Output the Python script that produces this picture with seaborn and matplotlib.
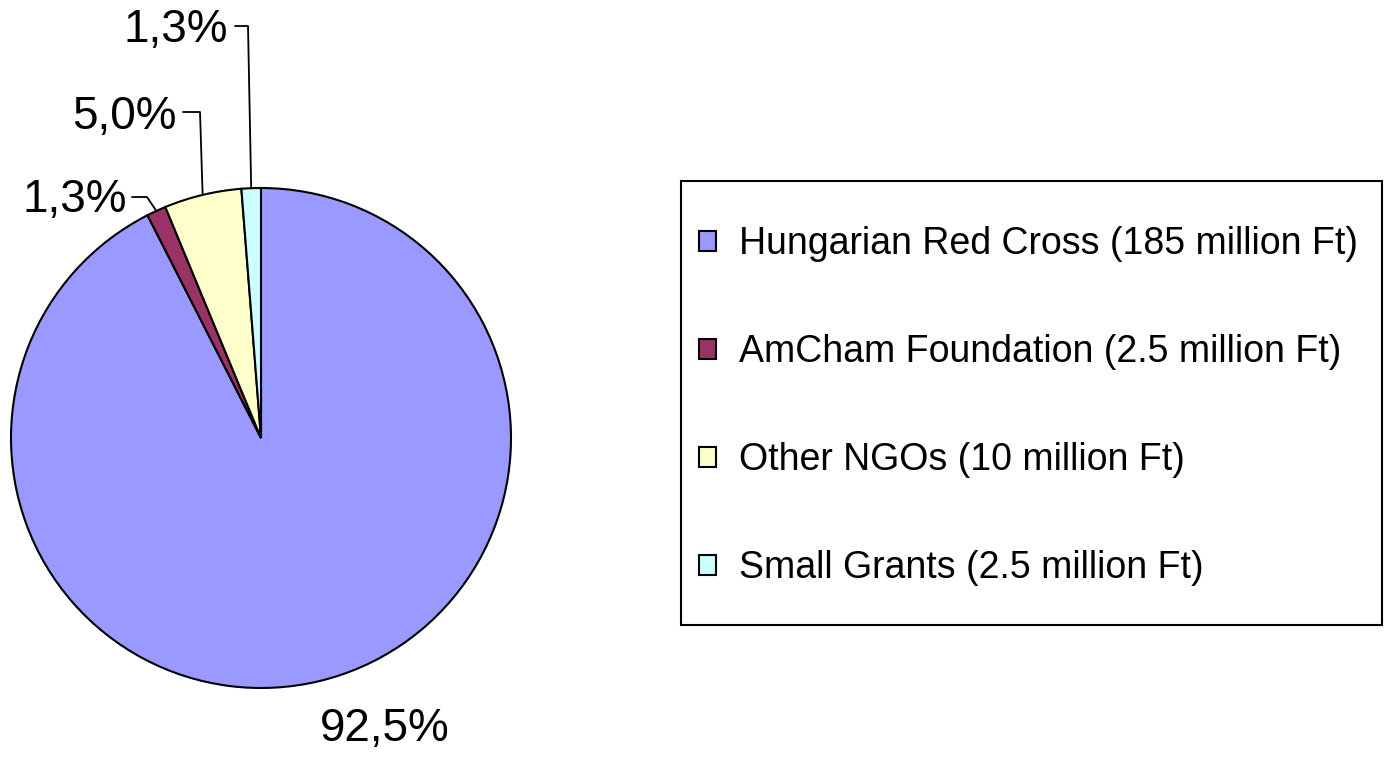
import matplotlib
matplotlib.use("Agg")

import numpy as np
import seaborn as sns
import matplotlib.pyplot as plt
from matplotlib.patches import Rectangle

# data
names = ['Hungarian Red Cross (185 million Ft)',
         'AmCham Foundation (2.5 million Ft)',
         'Other NGOs (10 million Ft)',
         'Small Grants (2.5 million Ft)']
amounts = [185, 2.5, 10, 2.5]
colors = ['#9999FF', '#993366', '#FFFFCC', '#CCFFFF']

sns.set_style("white")
plt.rcParams['font.family'] = ['Liberation Sans', 'DejaVu Sans']
plt.rcParams['text.color'] = 'black'

W, H = 1390, 757
fig = plt.figure(figsize=(W / 100, H / 100), dpi=100)

# pie axes: centre (261, 438) px, radius 250 px
cx, cy, r = 261, 438, 250
ax = fig.add_axes([(cx - r) / W, (H - cy - r) / H, 2 * r / W, 2 * r / H])

wedges, _ = ax.pie(amounts, colors=colors, startangle=90, counterclock=False,
                   wedgeprops=dict(edgecolor='black', linewidth=1.5))
ax.set_xlim(-1, 1)
ax.set_ylim(-1, 1)
ax.axis('off')

total = sum(amounts)
pcts = [f"{v / total * 100 + 1e-9:.1f}%".replace('.', ',') for v in amounts]

def px(x, y):
    # pixel -> data coords of pie axes
    return (x - cx) / r, (cy - y) / r

# label text anchors (right edge, centre) and elbow of the leader line, in px
label_pos = [None, (127, 200), (177, 117), (228, 30)]
elbow = [None, [(132, 197), (147, 197)], [(183, 112), (200, 112)], [(235, 26), (248, 26)]]

for i, w in enumerate(wedges):
    mid = np.deg2rad((w.theta1 + w.theta2) / 2)
    if i == 0:
        tx, ty = px(385, 729)
        ax.text(tx, ty, pcts[i], fontsize=33, ha='center', va='center')
        continue
    tx, ty = px(*label_pos[i])
    ax.text(tx, ty, pcts[i], fontsize=33, ha='right', va='center')
    pts = [px(*p) for p in elbow[i]] + [(np.cos(mid), np.sin(mid))]
    xs, ys = zip(*pts)
    ax.plot(xs, ys, color='black', linewidth=1.3, clip_on=False)

# legend frame (drawn separately for uneven padding)
bx0, bx1, by0, by1 = 681, 1382, 181, 625
fig.patches.append(Rectangle((bx0 / W, 1 - by1 / H), (bx1 - bx0) / W, (by1 - by0) / H,
                             transform=fig.transFigure, fill=False,
                             edgecolor='black', linewidth=1.5))

leg = fig.legend(wedges, names, loc='upper left',
                 bbox_to_anchor=(699 / W, 1 - 226 / H),
                 fontsize=27, frameon=False, labelcolor='black',
                 handlelength=0.45, handleheight=0.45, handletextpad=0.62,
                 labelspacing=1.92, borderpad=0, borderaxespad=0)
for h in leg.legend_handles:
    h.set_edgecolor('black')
    h.set_linewidth(1.5)

plt.savefig('out.png', dpi=100)
plt.close()
